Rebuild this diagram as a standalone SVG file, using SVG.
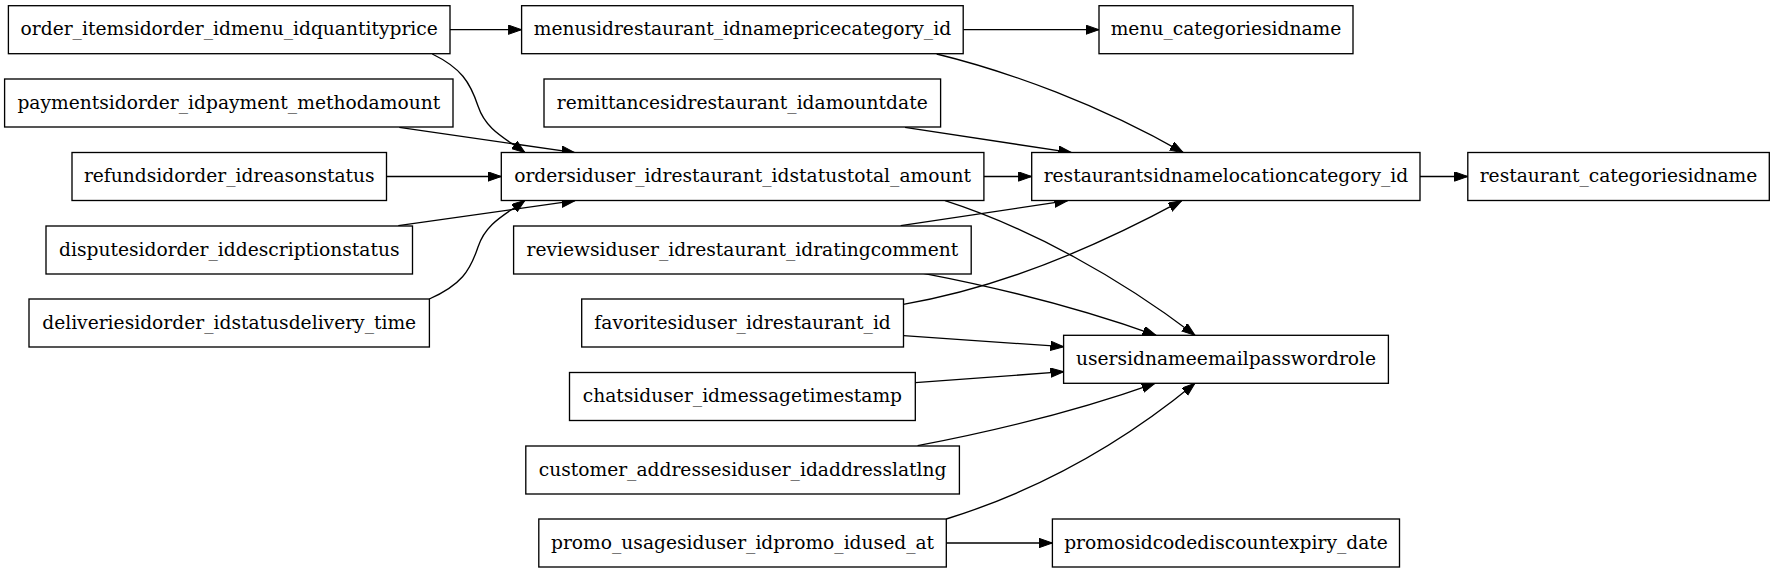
<svg xmlns="http://www.w3.org/2000/svg" width="1775" height="573" viewBox="0 0 1775 573">
<style>
.n rect{fill:#ffffff;stroke:#000000;stroke-width:1.33}
.n text{font-family:"DejaVu Serif",serif;font-size:18.67px;fill:#000000;text-anchor:middle}
.e path{fill:none;stroke:#000000;stroke-width:1.33;marker-end:url(#arr)}
</style>
<defs>
<marker id="arr" markerUnits="userSpaceOnUse" markerWidth="14" markerHeight="10" refX="13.33" refY="4.67" orient="auto" viewBox="0 0 14 10">
<path d="M0,0 L13.33,4.67 L0,9.33 Z" fill="#000000" stroke="#000000" stroke-width="1"/>
</marker>
</defs>
<rect width="1775" height="573" fill="#ffffff"/>
<g id="edges" class="e">
<path d="M450,29.7 L521.6,29.7"/>
<path d="M963.2,29.7 L1099,29.7"/>
<path d="M1420,176.5 L1467.8,176.5"/>
<path d="M386.5,176.5 L501.3,176.5"/>
<path d="M983.9,176.5 L1031.7,176.5"/>
<path d="M946.3,543 L1052.4,543"/>
<path d="M432.3,54 C461,68 470,82 478,106 C486,130 505,138 525,152.7"/>
<path d="M399.3,127.3 L575,152.7"/>
<path d="M398.3,225.7 L575,200.7"/>
<path d="M429.3,299 C461,285 470,271 478,247 C486,223 505,215 525,200.3"/>
<path d="M936.7,54 C1010,72 1100,105 1183.3,152.7"/>
<path d="M905,127.3 L1071.7,152.7"/>
<path d="M945,200.7 C1030,228 1120,278 1195,335.3"/>
<path d="M900.7,225.7 L1067.7,200.7"/>
<path d="M923.3,273.3 C1000,288 1080,308 1156,335.3"/>
<path d="M903.3,304.3 C1000,288 1100,245 1181.7,200.7"/>
<path d="M903.5,335.7 L1063.8,346.7"/>
<path d="M915.3,382.7 L1063.8,371.7"/>
<path d="M917.6,445.7 C1000,430 1080,410 1155,383.3"/>
<path d="M946.3,519 C1040,490 1120,445 1195,383.3"/>
</g>
<g id="order_items" class="n"><rect x="8.4" y="5.7" width="441.6" height="48"/><text x="229.2" y="35.3">order_itemsidorder_idmenu_idquantityprice</text></g>
<g id="menus" class="n"><rect x="521.6" y="5.7" width="441.6" height="48"/><text x="742.4" y="35.3">menusidrestaurant_idnamepricecategory_id</text></g>
<g id="menu_categories" class="n"><rect x="1099" y="5.7" width="254" height="48"/><text x="1226" y="35.3">menu_categoriesidname</text></g>
<g id="payments" class="n"><rect x="4.6" y="79" width="448.4" height="48"/><text x="228.8" y="108.6">paymentsidorder_idpayment_methodamount</text></g>
<g id="remittances" class="n"><rect x="544" y="79" width="396.6" height="48"/><text x="742.3" y="108.6">remittancesidrestaurant_idamountdate</text></g>
<g id="refunds" class="n"><rect x="72" y="152.5" width="314.5" height="48"/><text x="229.3" y="182.1">refundsidorder_idreasonstatus</text></g>
<g id="orders" class="n"><rect x="501.3" y="152.5" width="482.6" height="48"/><text x="742.6" y="182.1">ordersiduser_idrestaurant_idstatustotal_amount</text></g>
<g id="restaurants" class="n"><rect x="1031.7" y="152.5" width="388.3" height="48"/><text x="1225.9" y="182.1">restaurantsidnamelocationcategory_id</text></g>
<g id="restaurant_categories" class="n"><rect x="1467.8" y="152.5" width="301.5" height="48"/><text x="1618.5" y="182.1">restaurant_categoriesidname</text></g>
<g id="disputes" class="n"><rect x="46" y="226" width="366.5" height="48"/><text x="229.3" y="255.6">disputesidorder_iddescriptionstatus</text></g>
<g id="reviews" class="n"><rect x="513.6" y="226" width="457.6" height="48"/><text x="742.4" y="255.6">reviewsiduser_idrestaurant_idratingcomment</text></g>
<g id="deliveries" class="n"><rect x="29" y="299" width="400.4" height="48"/><text x="229.2" y="328.6">deliveriesidorder_idstatusdelivery_time</text></g>
<g id="favorites" class="n"><rect x="581.7" y="299" width="321.8" height="48"/><text x="742.6" y="328.6">favoritesiduser_idrestaurant_id</text></g>
<g id="users" class="n"><rect x="1063.6" y="335.3" width="324.8" height="48"/><text x="1226" y="364.9">usersidnameemailpasswordrole</text></g>
<g id="chats" class="n"><rect x="569.5" y="372.5" width="345.8" height="48"/><text x="742.4" y="402.1">chatsiduser_idmessagetimestamp</text></g>
<g id="customer_addresses" class="n"><rect x="525.8" y="446" width="433.6" height="48"/><text x="742.6" y="475.6">customer_addressesiduser_idaddresslatlng</text></g>
<g id="promo_usages" class="n"><rect x="538.8" y="519" width="407.5" height="48"/><text x="742.55" y="548.6">promo_usagesiduser_idpromo_idused_at</text></g>
<g id="promos" class="n"><rect x="1052.4" y="519" width="347.1" height="48"/><text x="1226" y="548.6">promosidcodediscountexpiry_date</text></g>
</svg>
